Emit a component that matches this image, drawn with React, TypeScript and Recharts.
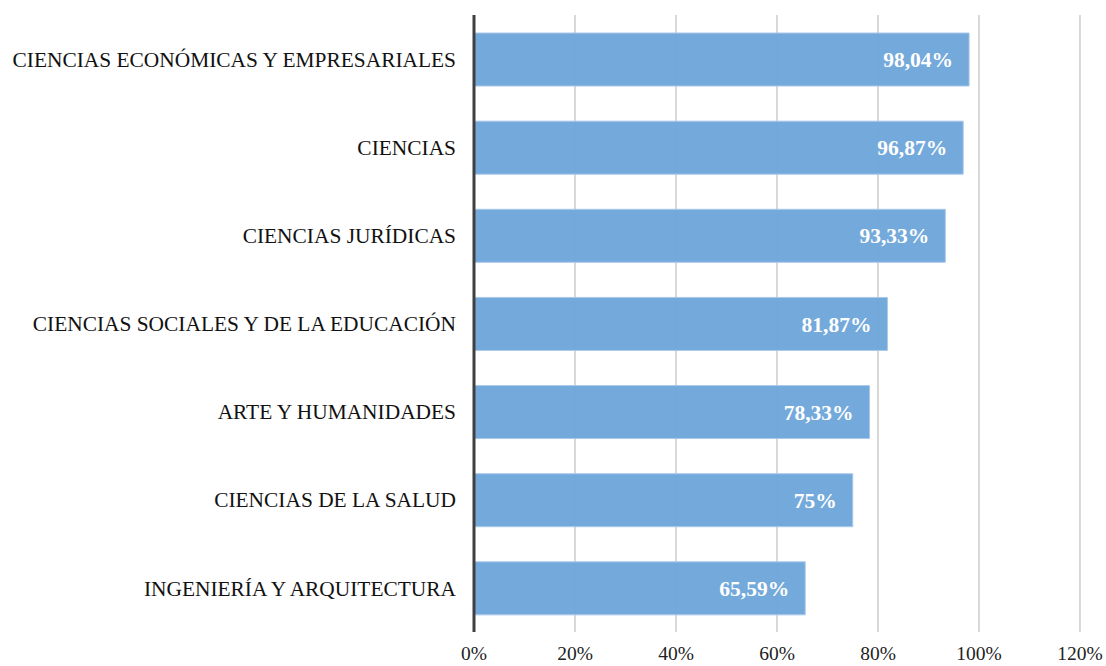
import { Bar, BarChart, CartesianGrid, LabelList, XAxis, YAxis } from 'recharts';

const CATEGORIES = [
  'CIENCIAS ECONÓMICAS Y EMPRESARIALES',
  'CIENCIAS',
  'CIENCIAS JURÍDICAS',
  'CIENCIAS SOCIALES Y DE LA EDUCACIÓN',
  'ARTE Y HUMANIDADES',
  'CIENCIAS DE LA SALUD',
  'INGENIERÍA Y ARQUITECTURA',
];
const VALUES = [98.04, 96.87, 93.33, 81.87, 78.33, 75, 65.59];
const X_TICKS = [0, 20, 40, 60, 80, 100, 120];

const data = CATEGORIES.map((name, i) => ({ name, value: VALUES[i] }));
const FONT = '"Liberation Serif", "Times New Roman", serif';
const pct = (v: number) => `${String(v).replace('.', ',')}%`;

export default function App() {
  return (
    <div style={{ position: 'absolute', left: 0, top: 0, background: '#fff' }}>
      <BarChart
        width={1106}
        height={666}
        data={data}
        layout="vertical"
        margin={{ top: 15, right: 26, bottom: 0, left: 0 }}
      >
        <CartesianGrid horizontal={false} stroke="#c4c4c4" strokeWidth={1.3} />
        <XAxis
          type="number"
          domain={[0, 120]}
          ticks={X_TICKS}
          tickFormatter={(v) => `${v}%`}
          axisLine={false}
          tickLine={false}
          tickSize={0}
          tickMargin={14}
          height={34}
          tick={{ fontSize: 19.5, fill: '#222', fontFamily: FONT }}
          interval={0}
        />
        <YAxis
          type="category"
          dataKey="name"
          width={474}
          tickLine={false}
          tickSize={0}
          tickMargin={18}
          axisLine={{ stroke: '#404040', strokeWidth: 3 }}
          tick={{ fontSize: 21.4, fill: '#111', fontFamily: FONT }}
          interval={0}
        />
        <Bar
          dataKey="value"
          barSize={53}
          fill="#6fa6da"
          fillOpacity={0.97}
          stroke="#a9c9ea"
          strokeWidth={1}
          isAnimationActive={false}
        >
          <LabelList
            dataKey="value"
            position="insideRight"
            offset={16}
            formatter={(v: number) => pct(v)}
            style={{ fill: '#fff', fontWeight: 'bold', fontSize: 21.5, fontFamily: FONT }}
          />
        </Bar>
      </BarChart>
    </div>
  );
}
